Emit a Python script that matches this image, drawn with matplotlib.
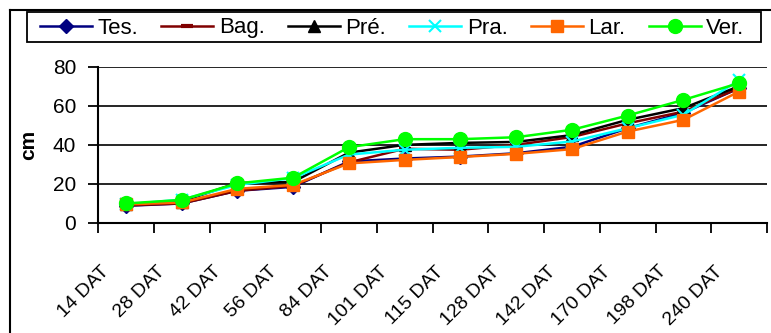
import matplotlib
matplotlib.use("Agg")
import matplotlib.pyplot as plt
from matplotlib.lines import Line2D
from matplotlib.patches import Rectangle
from matplotlib.transforms import ScaledTranslation

categories = ["14 DAT", "28 DAT", "42 DAT", "56 DAT", "84 DAT", "101 DAT",
              "115 DAT", "128 DAT", "142 DAT", "170 DAT", "198 DAT", "240 DAT"]
tes = [8.8, 10.0, 16.5, 18.5, 31.5, 33.0, 34.0, 35.7, 39.0, 48.5, 56.4, 69.0]
bag = [9.0, 10.0, 16.5, 19.0, 31.0, 38.0, 37.5, 40.0, 44.0, 51.0, 57.0, 69.0]
pre = [9.5, 11.0, 20.5, 21.0, 36.0, 40.0, 41.0, 41.5, 45.0, 52.8, 58.8, 70.0]
pra = [9.5, 12.0, 19.5, 23.0, 35.0, 37.5, 38.5, 39.0, 41.7, 48.5, 55.4, 73.0]
lar = [9.5, 10.5, 17.5, 19.5, 30.5, 32.3, 33.8, 35.4, 37.8, 46.8, 52.8, 67.3]
ver = [10.0, 11.8, 20.3, 23.2, 38.8, 42.9, 42.9, 43.9, 47.7, 55.0, 63.0, 71.6]
series_names = ["Tes.", "Bag.", "Pré.", "Pra.", "Lar.", "Ver."]
yticks = [0, 20, 40, 60, 80]

plt.rcParams['font.family'] = ['Liberation Sans', 'DejaVu Sans']

W, H = 771, 333
fig = plt.figure(figsize=(W / 100, H / 100), dpi=100)
ax = fig.add_axes([98 / W, (H - 223) / H, (767 - 98) / W, (223 - 66.7) / H])

x = list(range(len(categories)))
styles = [
    dict(color="#000080", marker="D", ms=7),
    dict(color="#800000", marker="_", ms=8, mew=3),
    dict(color="#000000", marker="^", ms=8),
    dict(color="#00FFFF", marker="x", ms=9, mew=1.5),
    dict(color="#FF6600", marker="s", ms=9),
    dict(color="#00FF00", marker="o", ms=10),
]
data = [tes, bag, pre, pra, lar, ver]
for name, vals, st in zip(series_names, data, styles):
    ax.plot(x, vals, lw=1.8, label=name, clip_on=False, **st)

ax.set_xlim(-0.5, len(categories) - 0.5)
ax.set_ylim(0, 80)
ax.set_yticks(yticks)
ax.set_yticklabels([str(v) for v in yticks], fontsize=15)
ax.yaxis.grid(True, color="black", lw=1.2)
ax.set_axisbelow(True)

ax.set_xticks([i - 0.5 for i in range(len(categories) + 1)])
ax.set_xticklabels([])
ax.set_xticks(x, minor=True)
ax.set_xticklabels(categories, minor=True, rotation=45, ha="right",
                   rotation_mode="anchor", fontsize=14)
ax.tick_params(axis="x", which="minor", length=0, pad=0)
ax.tick_params(axis="x", which="major", direction="out", length=7, width=1.3)
ax.tick_params(axis="y", direction="out", length=7, width=1.3, pad=8.7)
off = ScaledTranslation(-25 / 100, -40 / 100, fig.dpi_scale_trans)
for lab in ax.get_xticklabels(minor=True):
    lab.set_transform(lab.get_transform() + off)

for s in ["top", "right"]:
    ax.spines[s].set_visible(False)
for s in ["left", "bottom"]:
    ax.spines[s].set_linewidth(1.5)

ax.set_ylabel("cm", fontsize=15, fontweight="bold")
ax.yaxis.set_label_coords((38 - 98) / (767 - 98), 0.5)

# chart border
fig.add_artist(Line2D([10 / W, 10 / W], [0, 1 - 10 / H], color="black", lw=1.5,
                      transform=fig.transFigure))
fig.add_artist(Line2D([10 / W, 1], [1 - 10 / H, 1 - 10 / H], color="black", lw=1.5,
                      transform=fig.transFigure))

# legend frame
fig.add_artist(Rectangle((27 / W, 1 - 42 / H), (761 - 27) / W, 30 / H,
                         transform=fig.transFigure, fill=False,
                         edgecolor="black", lw=1.3))
leg = fig.legend(loc="upper left", bbox_to_anchor=(40 / W, 1 - 17.5 / H), ncol=6,
                 fontsize=16, frameon=False,
                 handlelength=2.34, handletextpad=0.25, columnspacing=1.04,
                 borderpad=0, borderaxespad=0)

fig.savefig("out.png", dpi=100)
